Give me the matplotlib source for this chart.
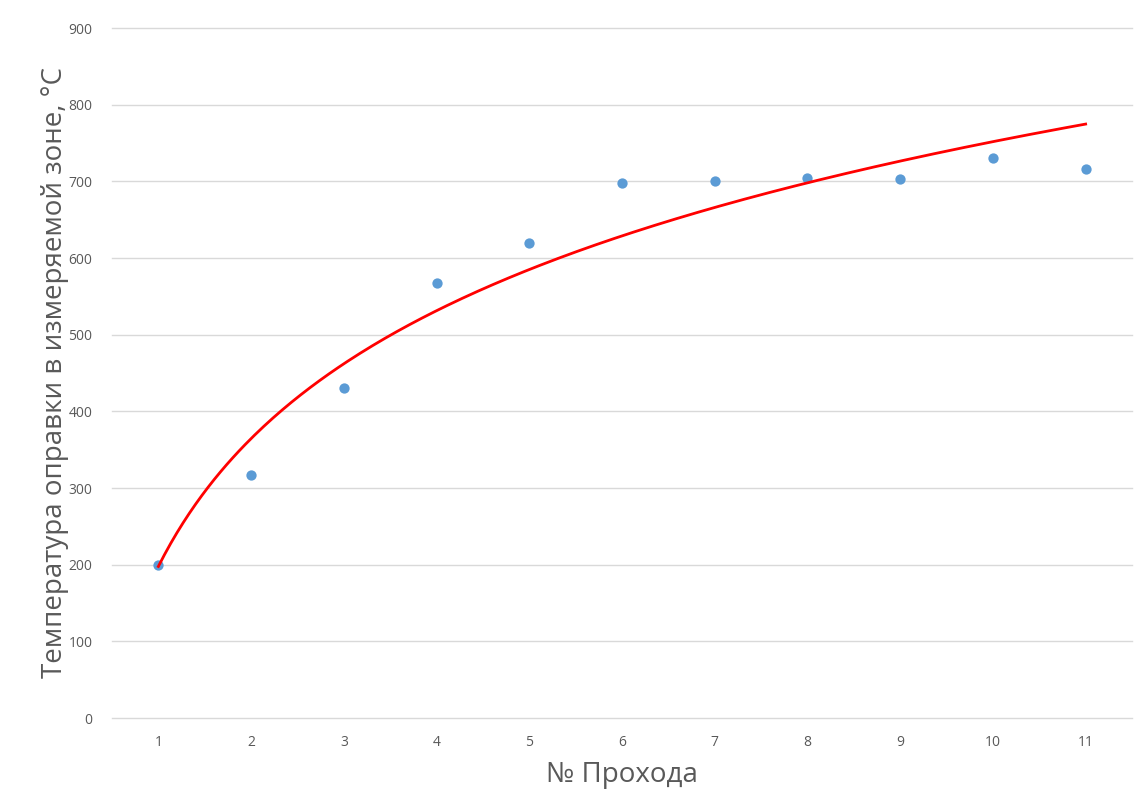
import matplotlib
matplotlib.use("Agg")
import matplotlib.pyplot as plt
import numpy as np

plt.rcParams['font.family'] = ['Open Sans', 'DejaVu Sans']

# проходы и измеренная температура
passes = [1, 2, 3, 4, 5, 6, 7, 8, 9, 10, 11]
temps = [200, 317, 430, 568, 619, 698, 701, 704, 703, 730, 716]

y_ticks = [0, 100, 200, 300, 400, 500, 600, 700, 800, 900]

# логарифмическая линия тренда, как в Excel
a, b = np.polyfit(np.log(passes), temps, 1)
xs = np.linspace(1, 11, 300)
ys = a * np.log(xs) + b

fig = plt.figure(figsize=(11.47, 7.93), dpi=100)
ax = fig.add_axes([112 / 1147, 1 - 718 / 793, (1132 - 112) / 1147, (718 - 28) / 793])

ax.set_xlim(0.5, 11.5)
ax.set_ylim(0, 900)
ax.set_yticks(y_ticks)
ax.set_xticks(passes)
ax.grid(axis='y', color='#d9d9d9', linewidth=1)
for gl in ax.get_ygridlines():
    gl.set_clip_on(False)
ax.set_axisbelow(True)
for s in ax.spines.values():
    s.set_visible(False)
ax.tick_params(length=0, labelsize=10, colors='#595959', pad=12)
ax.tick_params(axis='y', pad=14)

ax.scatter(passes, temps, s=55, color='#5b9bd5', zorder=3, linewidths=0)
ax.plot(xs, ys, color='#ff0000', linewidth=2, zorder=4)

ax.set_xlabel('№ Прохода', fontsize=20, color='#595959', labelpad=8)
ax.set_ylabel('Температура оправки в измеряемой зоне, °С', fontsize=20,
              color='#595959')
ax.yaxis.set_label_coords(-0.042, 0.5)

fig.savefig('out.png', dpi=100)
